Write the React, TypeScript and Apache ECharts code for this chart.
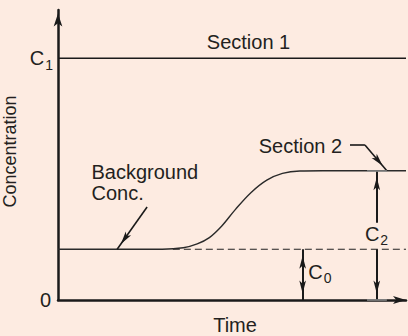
import React, { useEffect, useRef } from "react";
import * as echarts from "echarts";

// ---- data ----
const timeRange = [0, 100];
const concRange = [0, 120];
const c1Level = 100;
const backgroundLevel = 21;
const plateauLevel = 53.5;
const section1Time = [0, 100];
const section2Time = [0, 30, 36, 40, 43.5, 47, 51, 55.5, 60, 64.5, 69.5, 76, 100];
const section2Conc = [21, 21, 21.6, 23.2, 25.8, 30.5, 37.5, 44.5, 49.6, 52.4, 53.4, 53.5, 53.5];
const dashedTime = [33, 100];
const c0ArrowTime = 70.3;
const c2ArrowTime = 91.6;
const c2LabelGapTop = 32;
const c2TickTime = [88.8, 94.5];
const bgArrowTail = [25.6, 38.5];
const bgArrowTip = [17, 21];
const s2ArrowStart = [83.9, 64.1];
const s2ArrowBend = [88.2, 64.1];
const s2ArrowTip = [94.5, 53.5];
const yTickLabels: Record<number, string> = { 0: "{z|0}", 100: "{c|C}{s|1}" };

const FONT = "'Liberation Sans', Arial, Helvetica, sans-serif";
const INK = "#231f20";
const LINE = "#1a1a1a";
const BG = "#fdebe1";

export default function App() {
  const ref = useRef<HTMLDivElement>(null);
  useEffect(() => {
    document.body.style.margin = "0";
    document.body.style.background = BG;
    if (!ref.current) return;
    const chart = echarts.init(ref.current, null, { renderer: "svg" });

    const arrowEnd = (coord: number[]) => ({
      coord,
      symbol: "arrow",
      symbolSize: [5, 13],
      symbolOffset: [0, 6.5],
    });
    const plainEnd = (coord: number[]) => ({ coord, symbol: "none" });
    const blackStyle = { color: LINE, width: 2, type: "solid" };

    const option: any = {
      animation: false,
      backgroundColor: BG,
      grid: { left: 58, right: 2, top: 10, bottom: 36, outerBoundsMode: "none" },
      xAxis: {
        type: "value",
        min: timeRange[0],
        max: timeRange[1],
        axisLine: {
          show: true,
          lineStyle: { color: LINE, width: 2.5 },
          symbol: ["none", "arrow"],
          symbolSize: [6, 13],
          symbolOffset: [0, 0],
        },
        axisTick: { show: false },
        axisLabel: { show: false },
        splitLine: { show: false },
        name: "Time",
        nameLocation: "middle",
        nameGap: 15,
        nameTextStyle: { fontSize: 20, color: INK, fontFamily: FONT, padding: [0, 0, 0, 6] },
      },
      yAxis: {
        type: "value",
        min: concRange[0],
        max: concRange[1],
        interval: 100,
        axisLine: {
          show: true,
          lineStyle: { color: LINE, width: 2.5 },
          symbol: ["none", "arrow"],
          symbolSize: [6.5, 13],
          symbolOffset: [0, -3.5],
        },
        axisTick: { show: false },
        splitLine: { show: false },
        axisLabel: {
          margin: 5,
          formatter: (v: number) => yTickLabels[v] ?? "",
          rich: {
            z: { fontSize: 20, color: INK, fontFamily: FONT, padding: [0, 2, 0, 0] },
            c: { fontSize: 20, color: INK, fontFamily: FONT, verticalAlign: "top", lineHeight: 20 },
            s: {
              fontSize: 14,
              color: INK,
              fontFamily: FONT,
              verticalAlign: "top",
              lineHeight: 14,
              padding: [10, 0, 5, 1],
            },
          },
        },
        name: "Concentration",
        nameLocation: "middle",
        nameGap: 30,
        nameTextStyle: { fontSize: 18, color: INK, fontFamily: FONT, padding: [0, 0, 0, 7] },
      },
      series: [
        {
          name: "Section 1",
          type: "line",
          data: section1Time.map((t) => [t, c1Level]),
          showSymbol: false,
          lineStyle: { color: LINE, width: 1.5 },
          silent: true,
          z: 3,
          markLine: {
            silent: true,
            label: { show: false },
            emphasis: { disabled: true },
            animation: false,
            data: [
              // C0 double arrow
              [
                { ...arrowEnd([c0ArrowTime, backgroundLevel]), lineStyle: blackStyle },
                arrowEnd([c0ArrowTime, 0]),
              ],
              // C2 upper arrow
              [
                { ...plainEnd([c2ArrowTime, c2LabelGapTop]), lineStyle: blackStyle },
                arrowEnd([c2ArrowTime, plateauLevel]),
              ],
              // C2 lower arrow
              [
                { ...plainEnd([c2ArrowTime, backgroundLevel]), lineStyle: blackStyle },
                arrowEnd([c2ArrowTime, 0]),
              ],
              // Background Conc. pointer
              [
                { ...plainEnd(bgArrowTail), lineStyle: { color: LINE, width: 1.6, type: "solid" } },
                arrowEnd(bgArrowTip),
              ],
              // Section 2 pointer
              [
                { ...plainEnd(s2ArrowStart), lineStyle: { color: LINE, width: 1.6, type: "solid" } },
                plainEnd(s2ArrowBend),
              ],
              [
                {
                  ...plainEnd(s2ArrowBend),
                  lineStyle: { color: LINE, width: 1.6, type: "solid", curveness: 0.2 },
                },
                arrowEnd(s2ArrowTip),
              ],
              // grey level ticks at C2
              [
                { ...plainEnd([c2TickTime[0], plateauLevel]), lineStyle: { color: "#8f8f8f", width: 1.5, type: "solid" } },
                plainEnd([c2TickTime[1], plateauLevel]),
              ],
              [
                { ...plainEnd([c2TickTime[0], 0]), lineStyle: { color: "#8f8f8f", width: 1.5, type: "solid" } },
                plainEnd([c2TickTime[1], 0]),
              ],
            ],
          },
        },
        {
          name: "Background",
          type: "line",
          data: dashedTime.map((t) => [t, backgroundLevel]),
          showSymbol: false,
          silent: true,
          lineStyle: { color: "#222", width: 1.2, type: [7, 4] },
          z: 2,
        },
        {
          name: "Section 2",
          type: "line",
          data: section2Time.map((t, i) => [t, section2Conc[i]]),
          showSymbol: false,
          smooth: 0.35,
          silent: true,
          lineStyle: { color: "#2a2a2a", width: 1.4 },
          z: 3,
        },
      ],
      graphic: [
        txt("Section 1", 248.5, 42, 20, "center"),
        txt("Section 2", 258.7, 145.5, 20, "left"),
        txt("Background", 91.5, 172, 20, "left"),
        txt("Conc.", 91.5, 193.3, 20, "left"),
        txt("C", 308.3, 271.7, 20, "left"),
        txt("0", 323.7, 278.3, 14, "left"),
        txt("C", 365, 233.7, 20, "left"),
        txt("2", 380.3, 240, 14, "left"),
      ],
    };
    chart.setOption(option);
    return () => chart.dispose();
  }, []);

  return (
    <div
      ref={ref}
      style={{ position: "fixed", left: 0, top: 0, width: 408, height: 336, background: BG }}
    />
  );
}

function txt(text: string, x: number, y: number, size: number, align: string) {
  return {
    type: "text",
    x,
    y,
    silent: true,
    style: {
      text,
      fontSize: size,
      fontFamily: FONT,
      fill: INK,
      align,
      textAlign: align,
      verticalAlign: "middle",
      textVerticalAlign: "middle",
    },
  };
}
